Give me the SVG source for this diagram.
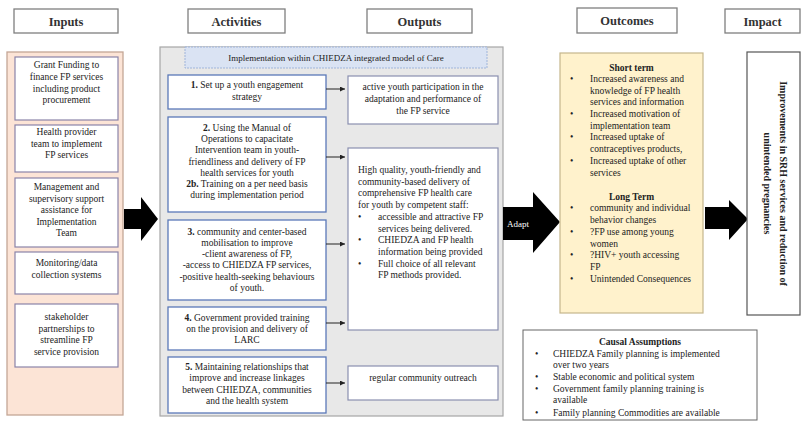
<svg xmlns="http://www.w3.org/2000/svg" width="802" height="422" viewBox="0 0 802 422" font-family="Liberation Serif, DejaVu Serif, serif">
<defs>
<style>
text{font-family:'Liberation Serif','DejaVu Serif',serif;fill:#222;}
.t{font-size:9.5px;}
.c{text-anchor:middle;}
.b{font-weight:bold;}
.hdr{fill:#fff;stroke:#7f7f7f;stroke-width:1.3;}
.htx{font-size:12.5px;font-weight:bold;text-anchor:middle;fill:#333;}
.inb{fill:#fff;stroke:#8a84a8;stroke-width:1.2;}
.acb{fill:#fff;stroke:#5b79b8;stroke-width:1.3;}
.oub{fill:#fff;stroke:#8a8fb0;stroke-width:1.2;}
.big{fill:#000;}
.con{stroke:#222;stroke-width:1;fill:none;}
</style>
<marker id="ah" viewBox="0 0 6 6" refX="6" refY="3" markerWidth="5" markerHeight="5" orient="auto" markerUnits="userSpaceOnUse">
<path d="M0,0 L6,3 L0,6 Z" fill="#222"/>
</marker>
</defs>
<rect width="802" height="422" fill="#fff"/>

<g id="headers">
<g id="h-inputs"><rect class="hdr" x="14" y="9" width="104" height="24"/><text class="htx" x="66" y="25.5">Inputs</text></g>
<g id="h-activities"><rect class="hdr" x="188" y="9" width="97" height="24"/><text class="htx" x="236.5" y="25.5">Activities</text></g>
<g id="h-outputs"><rect class="hdr" x="367" y="9" width="105" height="24"/><text class="htx" x="419.5" y="25.5">Outputs</text></g>
<g id="h-outcomes"><rect class="hdr" x="577" y="8" width="100" height="25"/><text class="htx" x="627" y="25">Outcomes</text></g>
<g id="h-impact"><rect class="hdr" x="725" y="9" width="75" height="24"/><text class="htx" x="762.5" y="25.5">Impact</text></g>
</g>

<g id="inputs">
<rect x="7" y="52" width="116" height="363" fill="#fce4d6" stroke="#c4a696" stroke-width="1.3"/>
<g id="in1"><rect class="inb" x="15" y="57" width="103" height="63"/>
<text class="t c" x="66.5" y="68">Grant Funding to</text><text class="t c" x="66.5" y="80">finance FP services</text><text class="t c" x="66.5" y="91.5">including product</text><text class="t c" x="66.5" y="103">procurement</text></g>
<g id="in2"><rect class="inb" x="15" y="125" width="103" height="47"/>
<text class="t c" x="66.5" y="135">Health provider</text><text class="t c" x="66.5" y="146.5">team to implement</text><text class="t c" x="66.5" y="158">FP services</text></g>
<g id="in3"><rect class="inb" x="15" y="178" width="103" height="69"/>
<text class="t c" x="66.5" y="190">Management and</text><text class="t c" x="66.5" y="201.5">supervisory support</text><text class="t c" x="66.5" y="213">assistance for</text><text class="t c" x="66.5" y="224.5">Implementation</text><text class="t c" x="66.5" y="236">Team</text></g>
<g id="in4"><rect class="inb" x="15" y="252" width="103" height="42"/>
<text class="t c" x="66.5" y="266">Monitoring/data</text><text class="t c" x="66.5" y="278">collection systems</text></g>
<g id="in5"><rect class="inb" x="15" y="304" width="103" height="63"/>
<text class="t c" x="66.5" y="320">stakeholder</text><text class="t c" x="66.5" y="331.5">partnerships to</text><text class="t c" x="66.5" y="343">streamline FP</text><text class="t c" x="66.5" y="354.5">service provision</text></g>
</g>

<g id="activities-panel">
<rect x="160" y="47" width="343" height="369" fill="#e8e8e8" stroke="#a6a6a6" stroke-width="1.2"/>
<rect x="185" y="47" width="302" height="21" fill="#dae3f3" stroke="#9fb4da" stroke-width="1" stroke-dasharray="2,1"/>
<text class="c" x="336" y="60.5" style="font-size:9px">Implementation within CHIEDZA integrated model of Care</text>
</g>

<g id="act1"><rect class="acb" x="168" y="75" width="158" height="34"/>
<text class="t c" x="247" y="88"><tspan class="b">1.</tspan> Set up a youth engagement</text><text class="t c" x="247" y="100">strategy</text></g>
<g id="act2"><rect class="acb" x="168" y="117" width="158" height="95"/>
<text class="t c" x="247" y="131"><tspan class="b">2.</tspan> Using the Manual of</text><text class="t c" x="247" y="142">Operations to capacitate</text><text class="t c" x="247" y="153">Intervention team in youth-</text><text class="t c" x="247" y="164.5">friendliness and delivery of FP</text><text class="t c" x="247" y="176">health services for youth</text><text class="t c" x="247" y="187"><tspan class="b">2b.</tspan> Training on a per need basis</text><text class="t c" x="247" y="198">during implementation period</text></g>
<g id="act3"><rect class="acb" x="168" y="220" width="158" height="80"/>
<text class="t c" x="247" y="235"><tspan class="b">3.</tspan> community and center-based</text><text class="t c" x="247" y="246">mobilisation to improve</text><text class="t c" x="247" y="257">-client awareness of FP,</text><text class="t c" x="247" y="268">-access to CHIEDZA FP services,</text><text class="t c" x="247" y="279.5">-positive health-seeking behaviours</text><text class="t c" x="247" y="291">of youth.</text></g>
<g id="act4"><rect class="acb" x="168" y="307" width="158" height="43"/>
<text class="t c" x="247" y="321"><tspan class="b">4.</tspan> Government provided training</text><text class="t c" x="247" y="331.5">on the provision and delivery of</text><text class="t c" x="247" y="343">LARC</text></g>
<g id="act5"><rect class="acb" x="168" y="357" width="158" height="56"/>
<text class="t c" x="247" y="370"><tspan class="b">5.</tspan> Maintaining relationships that</text><text class="t c" x="247" y="381">improve and increase linkages</text><text class="t c" x="247" y="392.5">between CHIEDZA, communities</text><text class="t c" x="247" y="404">and the health system</text></g>

<g id="out1"><rect class="oub" x="348" y="76" width="150" height="48"/>
<text class="t c" x="423" y="90">active youth participation in the</text><text class="t c" x="423" y="102">adaptation and performance of</text><text class="t c" x="423" y="114">the FP service</text></g>
<g id="out2"><rect class="oub" x="348" y="148" width="150" height="182"/>
<text class="t" x="358" y="173">High quality, youth-friendly and</text><text class="t" x="358" y="184.5">community-based delivery of</text><text class="t" x="358" y="196">comprehensive FP health care</text><text class="t" x="358" y="208">for youth by competent staff:</text>
<text class="t" x="358" y="220">•</text><text class="t" x="378" y="220">accessible and attractive FP</text><text class="t" x="378" y="231.5">services being delivered.</text>
<text class="t" x="358" y="243">•</text><text class="t" x="378" y="243">CHIEDZA and FP health</text><text class="t" x="378" y="255">information being provided</text>
<text class="t" x="358" y="266.5">•</text><text class="t" x="378" y="266.5">Full choice of all relevant</text><text class="t" x="378" y="278">FP methods provided.</text></g>
<g id="out3"><rect class="oub" x="348" y="366" width="150" height="34"/>
<text class="t c" x="423" y="380.5">regular community outreach</text></g>

<g id="connectors">
<line class="con" x1="326" y1="89" x2="345" y2="89" marker-end="url(#ah)"/>
<line class="con" x1="326" y1="157" x2="345" y2="157" marker-end="url(#ah)"/>
<line class="con" x1="326" y1="244" x2="345" y2="244" marker-end="url(#ah)"/>
<line class="con" x1="326" y1="323" x2="345" y2="323" marker-end="url(#ah)"/>
<line class="con" x1="326" y1="383" x2="345" y2="383" marker-end="url(#ah)"/>
<path class="big" d="M124,209 L141,209 L141,197 L158,219 L141,241 L141,229 L124,229 Z"/>
<path class="big" d="M503,207 L533,207 L533,192 L560,222 L533,253 L533,240 L503,240 Z"/>
<text x="518" y="227" style="font-size:9px;fill:#fff;text-anchor:middle">Adapt</text>
<path class="big" d="M705,207 L729,207 L729,200 L748,219 L729,240 L729,229 L705,229 Z"/>
</g>

<g id="outcomes">
<rect x="560" y="53" width="143" height="260" fill="#fff2cc" stroke="#c5b68c" stroke-width="1.2"/>
<text class="t c b" x="631.5" y="71">Short term</text>
<text class="t" x="570" y="82">•</text><text class="t" x="590" y="82">Increased awareness and</text><text class="t" x="590" y="93.5">knowledge of FP health</text><text class="t" x="590" y="105">services and information</text>
<text class="t" x="570" y="117">•</text><text class="t" x="590" y="117">Increased motivation of</text><text class="t" x="590" y="128.5">implementation team</text>
<text class="t" x="570" y="140">•</text><text class="t" x="590" y="140">Increased uptake of</text><text class="t" x="590" y="151.5">contraceptives products,</text>
<text class="t" x="570" y="164">•</text><text class="t" x="590" y="164">Increased uptake of other</text><text class="t" x="590" y="175.5">services</text>
<text class="t c b" x="631.5" y="200">Long Term</text>
<text class="t" x="570" y="211">•</text><text class="t" x="590" y="211">community and individual</text><text class="t" x="590" y="223">behavior changes</text>
<text class="t" x="570" y="235">•</text><text class="t" x="590" y="235">?FP use among young</text><text class="t" x="590" y="246.5">women</text>
<text class="t" x="570" y="258">•</text><text class="t" x="590" y="258">?HIV+ youth accessing</text><text class="t" x="590" y="270">FP</text>
<text class="t" x="570" y="281.5">•</text><text class="t" x="590" y="281.5">Unintended Consequences</text>
</g>

<g id="impact">
<rect x="747" y="52" width="53" height="263" fill="#fff" stroke="#555" stroke-width="1.2"/>
<text class="c b" style="font-size:10px" transform="translate(780,183.5) rotate(90)">Improvements in SRH services and reduction of</text>
<text class="c b" style="font-size:10px" transform="translate(764,183.5) rotate(90)">unintended pregnancies</text>
</g>

<g id="assumptions">
<rect x="523" y="330" width="234" height="90" fill="#fff" stroke="#666" stroke-width="1"/>
<text class="t c b" x="640" y="345">Causal Assumptions</text>
<text class="t" x="535" y="356.5">•</text><text class="t" x="553" y="356.5">CHIEDZA Family planning is implemented</text><text class="t" x="553" y="368">over two years</text>
<text class="t" x="535" y="380">•</text><text class="t" x="553" y="380">Stable economic and political system</text>
<text class="t" x="535" y="392">•</text><text class="t" x="553" y="392">Government family planning training is</text><text class="t" x="553" y="403">available</text>
<text class="t" x="535" y="415.5">•</text><text class="t" x="553" y="415.5">Family planning Commodities are available</text>
</g>
</svg>
